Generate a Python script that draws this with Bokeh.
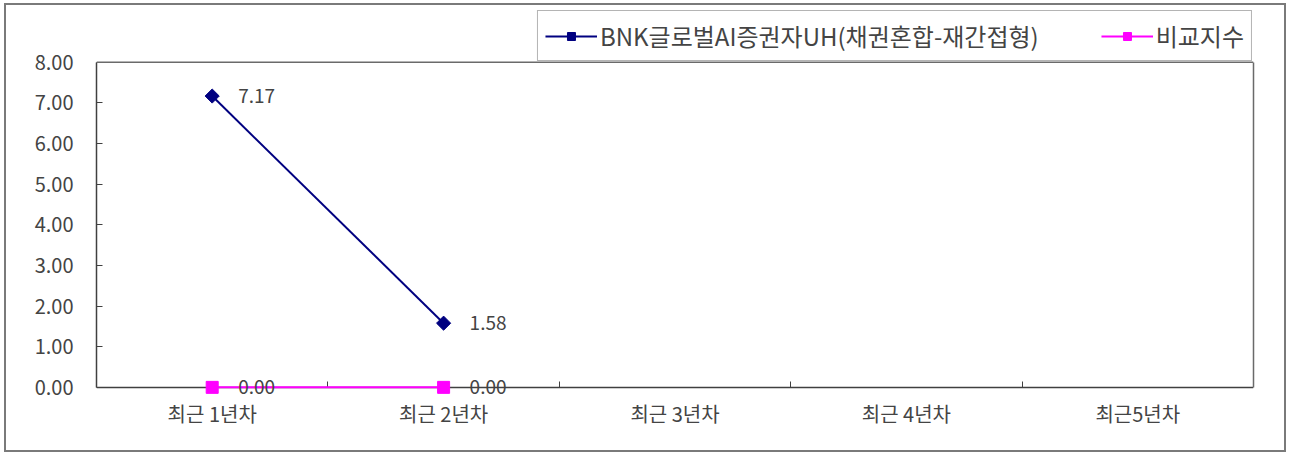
import math
from bokeh.plotting import figure
from bokeh.models import (Range1d, FixedTicker, PrintfTickFormatter, LinearAxis, Span,
                          Legend, LegendItem, ColumnDataSource)
from bokeh.core.properties import value
from bokeh.embed import file_html
from bokeh.resources import INLINE

categories = ["최근 1년차", "최근 2년차", "최근 3년차", "최근 4년차", "최근5년차"]
fund_name = "BNK글로벌AI증권자UH(채권혼합-재간접형)"
bench_name = "비교지수"
fund_values = [7.17, 1.58]
bench_values = [0.00, 0.00]
y_ticks = [0, 1, 2, 3, 4, 5, 6, 7, 8]

FONT = "Noto Sans CJK KR"
TXT = "#444444"
AX = "#404040"
BORDER = "#6a6a6a"

centers = [i + 0.5 for i in range(len(categories))]
bounds = [i for i in range(1, len(categories))]

W, H = 1278, 445
ML, MR, MT, MB = 90, 31, 4, 55
y_lo, y_hi = y_ticks[0], y_ticks[-1]
pad_lo, pad_hi = 0.2, 1.3   # room below zero (markers) and above the plot area (legend)
p = figure(width=W, height=H, output_backend="svg", toolbar_location=None,
           x_range=Range1d(0, len(categories)), y_range=Range1d(y_lo - pad_lo, y_hi + pad_hi),
           min_border_left=ML, min_border_right=MR, min_border_top=MT, min_border_bottom=MB)
p.styles = {"margin": "5px 0 0 6px", "outline": "2px solid #7a7a7a"}
p.xgrid.grid_line_color = None
p.ygrid.grid_line_color = None
p.outline_line_color = None
p.background_fill_color = "white"
p.border_fill_color = "white"

# category labels (below)
p.xaxis.ticker = FixedTicker(ticks=centers)
p.xaxis.major_label_overrides = {c: lab for c, lab in zip(centers, categories)}
p.xaxis.major_tick_line_color = None
p.xaxis.minor_tick_line_color = None
p.xaxis.axis_line_color = None
p.xaxis.major_label_text_font = FONT
p.xaxis.major_label_text_font_size = "20px"
p.xaxis.major_label_text_color = TXT
p.xaxis.major_label_standoff = -3

# zero line with category boundary ticks
zero_axis = LinearAxis(fixed_location=y_lo, ticker=FixedTicker(ticks=[], minor_ticks=bounds))
zero_axis.level = "underlay"
zero_axis.major_tick_line_color = None
zero_axis.minor_tick_in = 6
zero_axis.minor_tick_out = 0
zero_axis.minor_tick_line_color = AX
zero_axis.axis_line_color = AX
zero_axis.axis_line_width = 1.5
p.add_layout(zero_axis, "below")

# y axis
p.yaxis.bounds = (y_lo, y_hi)
p.yaxis.ticker = FixedTicker(ticks=y_ticks)
p.yaxis.formatter = PrintfTickFormatter(format="%.2f")
p.yaxis.major_tick_in = 6
p.yaxis.major_tick_out = 0
p.yaxis.minor_tick_line_color = None
p.yaxis.major_tick_line_color = AX
p.yaxis.axis_line_color = AX
p.yaxis.axis_line_width = 1.5
p.yaxis.major_label_text_font = FONT
p.yaxis.major_label_text_font_size = "20px"
p.yaxis.major_label_text_color = TXT
p.yaxis.major_label_standoff = 23

# plot-area border: right and top
right_axis = LinearAxis(bounds=(y_lo, y_hi), ticker=FixedTicker(ticks=[]))
right_axis.major_tick_line_color = None
right_axis.minor_tick_line_color = None
right_axis.axis_line_color = BORDER
right_axis.axis_line_width = 1.5
p.add_layout(right_axis, "right")
p.add_layout(Span(location=y_hi, dimension="width", line_color=BORDER, line_width=1.5))

fund_src = ColumnDataSource(dict(x=centers[:len(fund_values)], y=fund_values,
                                 lab=[f"{v:.2f}" for v in fund_values]))
bench_src = ColumnDataSource(dict(x=centers[:len(bench_values)], y=bench_values,
                                  lab=[f"{v:.2f}" for v in bench_values]))

fl = p.line("x", "y", source=fund_src, line_color="#000080", line_width=2)
fm = p.scatter("x", "y", source=fund_src, marker="square", size=10, angle=math.pi / 4,
               fill_color="#000080", line_color="#000080")
bl = p.line("x", "y", source=bench_src, line_color="#FF00FF", line_width=2)
bm = p.scatter("x", "y", source=bench_src, marker="square", size=12,
               fill_color="#FF00FF", line_color="#FF00FF")

for src in (fund_src, bench_src):
    p.text("x", "y", text="lab", source=src, x_offset=26, text_baseline="middle",
           text_align="left", text_font=value(FONT), text_font_size="19px", text_color=TXT)

legend = Legend(items=[LegendItem(label=fund_name, renderers=[fl, fm]),
                       LegendItem(label=bench_name, renderers=[bl, bm])],
                orientation="horizontal", location="top_right")
legend.label_text_font = FONT
legend.label_text_font_size = "24px"
legend.label_text_color = TXT
legend.glyph_width = 52
legend.glyph_height = 20
legend.label_height = 20
legend.label_standoff = 3
legend.spacing = 62
legend.padding = 7
legend.margin = 1
legend.border_line_color = BORDER
legend.border_line_width = 1.5
legend.background_fill_color = "white"
p.add_layout(legend)

open("out.html", "w").write(file_html(p, INLINE))
